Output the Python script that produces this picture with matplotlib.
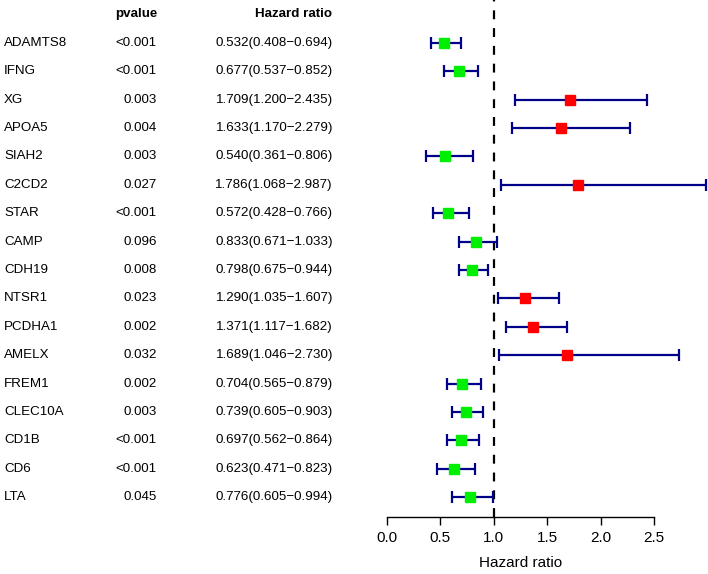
import matplotlib
matplotlib.use('Agg')
import matplotlib.pyplot as plt
import matplotlib.transforms as mtransforms

plt.rcParams['font.family'] = ['Liberation Sans', 'DejaVu Sans']

genes = ['ADAMTS8', 'IFNG', 'XG', 'APOA5', 'SIAH2', 'C2CD2', 'STAR', 'CAMP',
         'CDH19', 'NTSR1', 'PCDHA1', 'AMELX', 'FREM1', 'CLEC10A', 'CD1B', 'CD6', 'LTA']
pvalues = ['<0.001', '<0.001', '0.003', '0.004', '0.003', '0.027', '<0.001', '0.096',
           '0.008', '0.023', '0.002', '0.032', '0.002', '0.003', '<0.001', '<0.001', '0.045']
hr = [0.532, 0.677, 1.709, 1.633, 0.540, 1.786, 0.572, 0.833,
      0.798, 1.290, 1.371, 1.689, 0.704, 0.739, 0.697, 0.623, 0.776]
hr_low = [0.408, 0.537, 1.200, 1.170, 0.361, 1.068, 0.428, 0.671,
          0.675, 1.035, 1.117, 1.046, 0.565, 0.605, 0.562, 0.471, 0.605]
hr_high = [0.694, 0.852, 2.435, 2.279, 0.806, 2.987, 0.766, 1.033,
           0.944, 1.607, 1.682, 2.730, 0.879, 0.903, 0.864, 0.823, 0.994]

W, H = 708, 574
fig = plt.figure(figsize=(W / 100, H / 100), dpi=100)
ax = fig.add_axes([387 / W, 1 - 517 / H, 321 / W, 517 / H])

n = len(genes)
ys = [n - i for i in range(n)]

ax.axvline(1, color='black', linestyle=(0, (4, 4)), linewidth=1.6, zorder=1)

for y, h, lo, hi in zip(ys, hr, hr_low, hr_high):
    col = 'red' if h > 1 else '#00ee00'
    ax.errorbar(h, y, xerr=[[h - lo], [hi - h]], fmt='none', ecolor='#000088',
                elinewidth=1.6, capsize=4.5, capthick=1.6, zorder=2)
    ax.plot(h, y, marker='s', markersize=7, color=col, linestyle='none', zorder=3)

ax.set_xlim(0, 321 / 106.8)
ax.set_ylim(0.3, n + 1.51)
ax.set_xticks([0, 0.5, 1.0, 1.5, 2.0, 2.5])
ax.set_xticklabels(['0.0', '0.5', '1.0', '1.5', '2.0', '2.5'])
ax.tick_params(axis='x', length=6, width=1, labelsize=11, pad=4)
ax.set_yticks([])
for s in ['top', 'right', 'left']:
    ax.spines[s].set_visible(False)
ax.spines['bottom'].set_bounds(0, 2.5)
ax.spines['bottom'].set_linewidth(1)
ax.set_xlabel('Hazard ratio', fontsize=11, labelpad=8)
ax.xaxis.label.set_x(1.25 / (321 / 106.8))

trans = mtransforms.blended_transform_factory(fig.transFigure, ax.transData)
fs = 9.6
ax.text(157 / W, n + 1, 'pvalue', transform=trans, ha='right', va='center',
        fontsize=fs, fontweight='bold', clip_on=False)
ax.text(332 / W, n + 1, 'Hazard ratio', transform=trans, ha='right', va='center',
        fontsize=fs, fontweight='bold', clip_on=False)
for y, g, p, h, lo, hi in zip(ys, genes, pvalues, hr, hr_low, hr_high):
    ax.text(4 / W, y, g, transform=trans, ha='left', va='center', fontsize=fs, clip_on=False)
    ax.text(157 / W, y, p, transform=trans, ha='right', va='center', fontsize=fs, clip_on=False)
    ax.text(333 / W, y, f'{h:.3f}({lo:.3f}\u2212{hi:.3f})', transform=trans,
            ha='right', va='center', fontsize=fs, clip_on=False)

fig.savefig('out.png', dpi=100)
